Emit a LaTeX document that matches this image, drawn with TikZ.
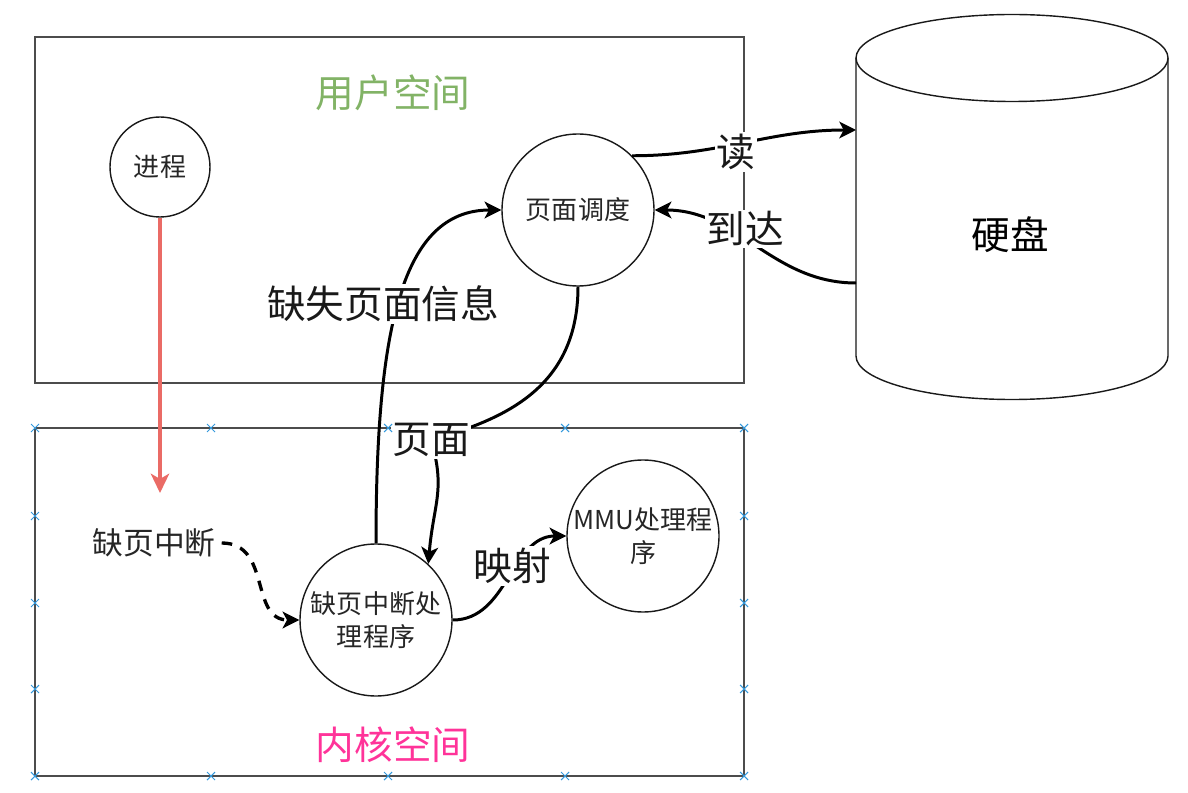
\documentclass[tikz,border=0pt]{standalone}
\usepackage{fontspec}
\setmainfont{Noto Sans CJK SC}
\usepackage{tikz}
\usetikzlibrary{arrows.meta}
\definecolor{usergreen}{HTML}{82B366}
\definecolor{kernelpink}{HTML}{FF3399}
\definecolor{trapred}{HTML}{EA6B66}
\definecolor{handleblue}{HTML}{3399DD}
\tikzset{
spacebox/.style={draw=black!70, line width=1.1pt},
diskline/.style={draw=black!90, line width=0.8pt},
roundnode/.style={circle, draw=black!90, fill=white, line width=0.8pt, inner sep=0pt, minimum size=3.04cm, align=center, text=black!85, font=\fontsize{14.8}{18.8}\selectfont},
smallround/.style={roundnode, minimum size=2cm},
plaintext/.style={text=black!85, font=\fontsize{17.5}{21}\selectfont},
titletext/.style={font=\fontsize{22}{26}\selectfont},
edgelabel/.style={fill=white, inner sep=1pt, text=black!90, font=\fontsize{22}{26}\selectfont},
flowarrow/.style={black, line width=1.7pt, -{Stealth[length=9.5pt,width=9.5pt,inset=2.5pt]}},
dashflow/.style={flowarrow, line width=1.9pt, dash pattern=on 6pt off 5pt},
trapline/.style={trapred, line width=1.8pt, -{Stealth[length=11pt,width=10.5pt,inset=3pt]}},
handlemark/.style={draw=handleblue, line width=0.6pt},
}
\begin{document}
\begin{tikzpicture}
        \useasboundingbox (0,0) rectangle (23.76,15.84);
        \draw[spacebox] (0.7,8.18) rectangle (14.88,15.1);
        \draw[spacebox] (0.7,0.32) rectangle (14.88,7.28);
        \node[titletext,text=usergreen] at (7.86,13.98) (usertitle) {用户空间};
        \node[titletext,text=kernelpink] at (7.86,0.94) (kerneltitle) {内核空间};

        \draw[diskline,fill=white] (17.12,14.68) -- (17.12,8.72) arc[start angle=180,end angle=360,x radius=3.12cm,y radius=0.87cm] -- (23.36,14.68);
        \draw[diskline] (20.24,14.68) ellipse [x radius=3.12cm,y radius=0.87cm];
        \node[titletext] at (20.2,11.14) (disk) {硬盘};
        \coordinate (diskread) at (17.12,13.24);
        \coordinate (diskarr) at (17.12,10.18);

        \node[smallround] at (3.2,12.5) (proc) {进程};
        \node[roundnode] at (11.56,11.64) (sched) {页面调度};
        \node[roundnode] at (7.52,3.44) (fault) {缺页中断处\\理程序};
        \node[roundnode] at (12.86,5.12) (mmu) {MMU处理程\\序};
        \node[plaintext] at (3.08,4.98) (intr) {缺页中断};
        \coordinate (trap) at (3.2,5.98);
        \coordinate (pagebend) at (8.62,7.04);

        \draw[trapline] (proc.south)--(trap);
        \draw[dashflow] (intr.east) .. controls +(1,0) and +(-1,0) .. (fault.west);
        \draw[flowarrow] (fault.north) .. controls +(0,4.28) and +(-2,0) .. (sched.west);
        \draw[flowarrow] (sched.south) .. controls +(0,-2.06) and +(1.4,0.4) .. (pagebend) .. controls +(0.3,-1) and +(0.1,1.2) .. (fault.47);
        \draw[flowarrow] (fault.east) to[out=0,in=180] (mmu.west);
        \draw[flowarrow] (sched.45) to[out=0,in=180] (diskread);
        \draw[flowarrow] (diskarr) to[out=180,in=0] (sched.east);

        \node[edgelabel] at (7.66,9.76) (lblmiss) {缺失页面信息};
        \node[edgelabel] at (8.62,7.04) (lblpage) {页面};
        \node[edgelabel] at (10.24,4.52) (lblmap) {映射};
        \node[edgelabel] at (14.72,12.8) (lblread) {读};
        \node[edgelabel] at (14.9,11.26) (lblarrive) {到达};

        \foreach \x in {0.7,4.22,7.76,11.3,14.88} {
            \draw[handlemark] (\x,7.28) +(-0.08,-0.08) -- +(0.08,0.08) +(-0.08,0.08) -- +(0.08,-0.08);
            \draw[handlemark] (\x,0.32) +(-0.08,-0.08) -- +(0.08,0.08) +(-0.08,0.08) -- +(0.08,-0.08);
        }
        \foreach \y in {5.52,3.78,2.06} {
            \draw[handlemark] (0.7,\y) +(-0.08,-0.08) -- +(0.08,0.08) +(-0.08,0.08) -- +(0.08,-0.08);
            \draw[handlemark] (14.88,\y) +(-0.08,-0.08) -- +(0.08,0.08) +(-0.08,0.08) -- +(0.08,-0.08);
        }
    \end{tikzpicture}
\end{document}
